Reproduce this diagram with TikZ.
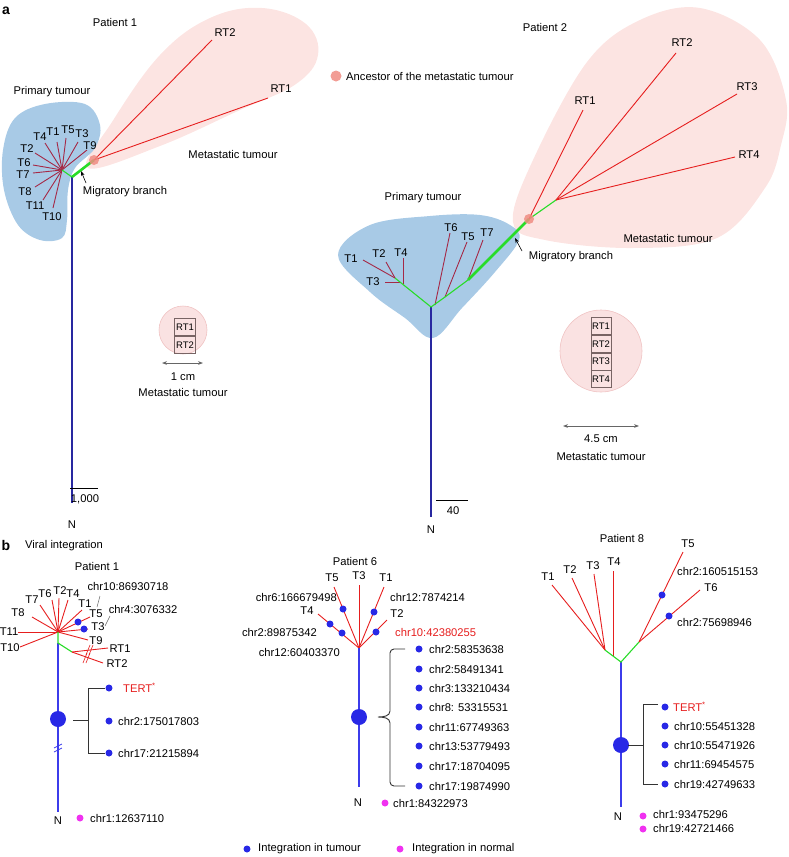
\documentclass[tikz,border=0pt]{standalone}
\usepackage{fontspec}
\setmainfont{Liberation Sans}
\usetikzlibrary{arrows.meta,calc}
\definecolor{blueblob}{RGB}{168,202,230}
\definecolor{pinkblob}{RGB}{252,228,226}
\definecolor{maroon}{RGB}{165,40,70}
\definecolor{redl}{RGB}{230,30,30}
\definecolor{greenl}{RGB}{40,220,40}
\definecolor{darkbl}{RGB}{40,40,160}
\definecolor{bluel}{RGB}{60,60,235}
\definecolor{dotblue}{RGB}{40,40,230}
\definecolor{magen}{RGB}{240,50,240}
\definecolor{ancpink}{RGB}{240,140,130}
\definecolor{circpink}{RGB}{250,226,226}
\definecolor{circedge}{RGB}{240,195,195}
\definecolor{boxedge}{RGB}{120,100,100}
\tikzset{
  lbl/.style={inner sep=0pt},
  redtxt/.style={inner sep=0pt,text=redl},
  bdot/.style={circle,fill=dotblue,inner sep=0pt,minimum size=7pt},
  mdot/.style={circle,fill=magen,inner sep=0pt,minimum size=7pt},
  bignode/.style={circle,fill=dotblue,inner sep=0pt,minimum size=16pt},
  anc/.style={circle,fill=ancpink,fill opacity=0.85,inner sep=0pt,minimum size=10pt},
  mbr/.style={maroon,line width=0.9pt},
  rbr/.style={redl,line width=0.9pt},
  gbr/.style={greenl,line width=1.1pt},
  gthick/.style={greenl,line width=2.6pt},
  trunka/.style={darkbl,line width=1.2pt},
  trunkb/.style={bluel,line width=1.1pt},
  brk/.style={black!80,line width=0.9pt},
  rtbox/.style={draw=boxedge,line width=0.7pt,inner sep=0pt,minimum width=21pt,minimum height=17pt,font=\fontsize{9.5}{10}\selectfont},
  dimarrow/.style={{Stealth[length=5pt]}-{Stealth[length=5pt]},black!60,line width=0.8pt},
  ptr/.style={-{Stealth[length=5pt,width=3.5pt]},black,line width=0.6pt}
}
\begin{document}
\begin{tikzpicture}[x=1pt,y=-1pt,font=\fontsize{11.2}{13}\selectfont]
\useasboundingbox (0,0) rectangle (788,857);

% ================= Panel a =================
\node[lbl,font=\fontsize{14}{16}\selectfont\bfseries] (la) at (6,11) {a};

% ---- Patient 1 ----
\node[lbl] (pa1) at (115,22) {Patient 1};
\fill[pinkblob] plot[smooth cycle,tension=0.65] coordinates {(88,168) (112,122) (160,55) (210,18) (262,8) (306,24) (318,55) (296,84) (240,110) (160,146)};
\fill[blueblob] plot[smooth cycle,tension=0.6] coordinates {(45,104) (85,104) (100,125) (95,148) (75,168) (68,190) (67,220) (62,238) (40,240) (18,225) (4,190) (3,150) (15,118)};
\node[lbl] (prim1) at (52,92) {Primary tumour};
\node[lbl] (met1) at (233,154) {Metastatic tumour};
\node[lbl] (mig1) at (125,192) {Migratory branch};

\coordinate (p1c) at (62,170);
\coordinate (p1j) at (72,177);
\coordinate (p1a) at (94,160);
\coordinate (p1bot) at (72,503);
\foreach \ex/\ey/\t/\lx/\ly in {45/143/T4/40/137, 57/142/T1/53/132, 66/138/T5/68/130, 78/142/T3/82/134, 87/150/T9/90/146, 35/153/T2/27/149, 33/165/T6/24/163, 33/173/T7/23/175, 35/187/T8/25/192, 43/200/T11/35/206, 53/208/T10/52/217}{
  \coordinate (e1\t) at (\ex,\ey);
  \draw[mbr] (p1c) -- (e1\t);
  \node[lbl] (l1\t) at (\lx,\ly) {\t};
}
\draw[trunka] (p1j) -- (p1bot);
\draw[gbr] (p1c) -- (p1j);
\draw[gthick] (p1j) -- (p1a);
\coordinate (e1RT2) at (212,40);
\coordinate (e1RT1) at (268,98);
\draw[rbr] (p1a) -- (e1RT2);
\draw[rbr] (p1a) -- (e1RT1);
\node[anc] (anc1) at (p1a) {};
\node[lbl] (l1RT2) at (225,33) {RT2};
\node[lbl] (l1RT1) at (281,89) {RT1};
\coordinate (mig1s) at (86,183);
\coordinate (mig1t) at (81,171);
\draw[ptr] (mig1s) -- (mig1t);
% scale bar
\coordinate (sb1a) at (70,488);
\coordinate (sb1b) at (98,488);
\draw[black,line width=0.8pt] (sb1a) -- (sb1b);
\node[lbl] (sb1l) at (85,499) {1,000};
\node[lbl] (n1) at (72,525) {N};

% legend ancestor
\node[anc,minimum size=11pt] (ancleg) at (336,76) {};
\node[lbl,anchor=west] (ancleglbl) at (346,76) {Ancestor of the metastatic tumour};

% size circle patient 1
\fill[circpink,draw=circedge,line width=0.6pt] (183,330) circle (24);
\node[rtbox] (c1r1) at (185,327) {RT1};
\node[rtbox,anchor=north] (c1r2) at (c1r1.south) {RT2};
\coordinate (d1a) at (162,363);
\coordinate (d1b) at (203,363);
\draw[dimarrow] (d1a) -- (d1b);
\node[lbl] (cm1) at (183,377) {1 cm};
\node[lbl] (mt1) at (183,392) {Metastatic tumour};

% ---- Patient 2 ----
\node[lbl] (pa2) at (545,27) {Patient 2};
\fill[pinkblob] plot[smooth cycle,tension=0.6] coordinates {(513,222) (533,160) (587,62) (640,20) (700,8) (760,40) (786,100) (781,145) (765,188) (717,238) (633,248) (545,240)};
\fill[blueblob] plot[smooth cycle,tension=0.6] coordinates {(338,255) (370,225) (430,216) (480,215) (510,225) (519,240) (495,272) (462,308) (433,338) (405,318) (370,292)};
\node[lbl] (prim2) at (423,198) {Primary tumour};
\node[lbl] (met2) at (668,238) {Metastatic tumour};
\node[lbl] (mig2) at (571,257) {Migratory branch};

\coordinate (p2r) at (431,307);
\coordinate (p2l) at (395,278);
\coordinate (p2m) at (445,297);
\coordinate (p2n) at (468,280);
\coordinate (p2a) at (529,219);
\coordinate (p2b) at (556,200);
\coordinate (p2bot) at (431,517);
\draw[trunka] (p2r) -- (p2bot);
\draw[mbr] (p2l) -- (363,260);
\draw[mbr] (p2l) -- (386,262);
\draw[mbr] (400,282) -- (385,282);
\draw[mbr] (403,284) -- (403,258);
\draw[mbr] (435,305) -- (450,233);
\draw[mbr] (p2m) -- (467,242);
\draw[mbr] (p2n) -- (483,240);
\draw[gbr] (p2r) -- (p2l);
\draw[gbr] (p2r) -- (p2m) -- (p2n);
\draw[gthick] (p2n) -- (p2a);
\draw[gbr] (p2a) -- (p2b);
\draw[rbr] (p2a) -- (583,110);
\draw[rbr] (p2b) -- (676,53);
\draw[rbr] (p2b) -- (737,94);
\draw[rbr] (p2b) -- (735,157);
\node[anc] (anc2) at (p2a) {};
\node[lbl] (l2T1) at (351,259) {T1};
\node[lbl] (l2T2) at (379,254) {T2};
\node[lbl] (l2T4) at (401,253) {T4};
\node[lbl] (l2T3) at (373,282) {T3};
\node[lbl] (l2T6) at (451,228) {T6};
\node[lbl] (l2T5) at (468,237) {T5};
\node[lbl] (l2T7) at (487,233) {T7};
\node[lbl] (l2RT1) at (585,101) {RT1};
\node[lbl] (l2RT2) at (682,43) {RT2};
\node[lbl] (l2RT3) at (747,87) {RT3};
\node[lbl] (l2RT4) at (749,155) {RT4};
\coordinate (mig2s) at (522,251);
\coordinate (mig2t) at (515,238);
\draw[ptr] (mig2s) -- (mig2t);
\coordinate (sb2a) at (436,500);
\coordinate (sb2b) at (468,500);
\draw[black,line width=0.8pt] (sb2a) -- (sb2b);
\node[lbl] (sb2l) at (453,511) {40};
\node[lbl] (n2) at (431,530) {N};

% size circle patient 2
\fill[circpink,draw=circedge,line width=0.6pt] (601,351) circle (41);
\node[rtbox,minimum width=20pt] (c2r1) at (601,326) {RT1};
\node[rtbox,minimum width=20pt,anchor=north] (c2r2) at (c2r1.south) {RT2};
\node[rtbox,minimum width=20pt,anchor=north] (c2r3) at (c2r2.south) {RT3};
\node[rtbox,minimum width=20pt,anchor=north] (c2r4) at (c2r3.south) {RT4};
\coordinate (d2a) at (563,426);
\coordinate (d2b) at (639,426);
\draw[dimarrow] (d2a) -- (d2b);
\node[lbl] (cm2) at (601,439) {4.5 cm};
\node[lbl] (mt2) at (601,456) {Metastatic tumour};

% ================= Panel b =================
\node[lbl,font=\fontsize{14}{16}\selectfont\bfseries] (lb) at (6,545) {b};
\node[lbl,anchor=west] (vi) at (25,546) {Viral integration};

% ---- Patient 1 ----
\node[lbl] (pb1) at (97,566) {Patient 1};
\coordinate (b1c) at (58,632);
\coordinate (b1g) at (58,643);
\coordinate (b1r) at (72,652);
\coordinate (b1bot) at (58,812);
\foreach \ex/\ey/\t/\lx/\ly in {32/617/T8/18/613, 40/605/T7/32/600, 52/600/T6/45/594, 59/598/T2/60/591, 68/600/T4/73/594, 82/610/T1/85/604, 90/617/T5/96/614, 88/629/T3/98/627, 88/640/T9/96/641, 18/632/T11/9/632, 20/647/T10/10/648}{
  \coordinate (f1\t) at (\ex,\ey);
  \draw[rbr] (b1c) -- (f1\t);
  \node[lbl] (k1\t) at (\lx,\ly) {\t};
}
\draw[trunkb] (b1g) -- (b1bot);
\draw[gbr] (b1c) -- (b1g) -- (b1r);
\coordinate (f1RT1) at (108,648);
\coordinate (f1RT2) at (103,663);
\draw[rbr] (b1r) -- (f1RT1);
\draw[rbr] (b1r) -- (f1RT2);
\node[lbl] (k1RT1) at (120,649) {RT1};
\node[lbl] (k1RT2) at (117,664) {RT2};
\foreach \bx/\by in {88/650, 91/650, 85/658, 88/658}{\draw[redl,line width=0.6pt] (\bx-2,\by+5) -- (\bx+2,\by-5);}
\foreach \by in {746,750}{\draw[bluel,line width=0.7pt] (54,\by+2) -- (62,\by-2);}
\node[bdot] (b1d1) at (78,622) {};
\node[bdot] (b1d2) at (84,629) {};
\node[lbl] (chr10a) at (128,586) {chr10:86930718};
\node[lbl] (chr4a) at (143,609) {chr4:3076332};
\coordinate (ld1a) at (100,596);
\coordinate (ld1b) at (97,607);
\coordinate (ld2a) at (110,616);
\coordinate (ld2b) at (105,626);
\draw[black!60,line width=0.5pt] (ld1a) -- (ld1b);
\draw[black!60,line width=0.5pt] (ld2a) -- (ld2b);
\node[bignode] (b1big) at (58,719) {};
\coordinate (br1m) at (73,720);
\draw[brk] (105,688) -- (88,688) -- (88,753) -- (105,753);
\draw[brk] (br1m) -- (88,720);
\node[bdot] (b1e1) at (109,688) {};
\node[bdot] (b1e2) at (109,721) {};
\node[bdot] (b1e3) at (109,753) {};
\node[redtxt,anchor=west] (tert1) at (123,688) {TERT\textsuperscript{*}};
\node[lbl,anchor=west] (b1t2) at (118,721) {chr2:175017803};
\node[lbl,anchor=west] (b1t3) at (118,753) {chr17:21215894};
\node[lbl] (bn1) at (58,821) {N};
\node[mdot] (b1m) at (80,818) {};
\node[lbl,anchor=west] (b1mt) at (90,818) {chr1:12637110};

% ---- Patient 6 ----
\node[lbl] (pb6) at (355,561) {Patient 6};
\coordinate (b6c) at (359,648);
\coordinate (b6bot) at (359,787);
\foreach \ex/\ey/\t/\lx/\ly in {334/587/T5/332/578, 359/585/T3/359/576, 384/587/T1/386/578, 318/614/T4/307/611, 387/620/T2/397/614}{
  \coordinate (f6\t) at (\ex,\ey);
  \draw[rbr] (b6c) -- (f6\t);
  \node[lbl] (k6\t) at (\lx,\ly) {\t};
}
\draw[trunkb] (b6c) -- (b6bot);
\node[bdot] (b6d1) at (343,609) {};
\node[bdot] (b6d2) at (374,612) {};
\node[bdot] (b6d3) at (330,624) {};
\node[bdot] (b6d4) at (342,633) {};
\node[bdot] (b6d5) at (376,632) {};
\node[lbl,anchor=east] (b6l1) at (337,597) {chr6:166679498};
\node[lbl,anchor=west] (b6l2) at (390,597) {chr12:7874214};
\node[lbl,anchor=east] (b6l3) at (317,632) {chr2:89875342};
\node[redtxt,anchor=west] (b6l4) at (395,632) {chr10:42380255};
\node[lbl,anchor=east] (b6l5) at (340,652) {chr12:60403370};
\node[bignode] (b6big) at (359,717) {};
\draw[brk] (405,649) -- (394,649) to[out=180,in=90] (390,653) -- (390,711) to[out=-90,in=0] (378,717) to[out=0,in=90] (390,723) -- (390,782) to[out=-90,in=180] (394,786) -- (405,786);
\foreach \y/\t in {649/chr2:58353638, 669/chr2:58491341, 688/chr3:133210434, 707/chr8: 53315531, 727/chr11:67749363, 746/chr13:53779493, 766/chr17:18704095, 786/chr17:19874990}{
  \node[bdot] at (419,\y) {};
  \node[lbl,anchor=west] at (429,\y) {\t};
}
\node[lbl] (bn6) at (358,803) {N};
\node[mdot] (b6m) at (385,803) {};
\node[lbl,anchor=west] (b6mt) at (393,803) {chr1:84322973};

% ---- Patient 8 ----
\node[lbl] (pb8) at (622,538) {Patient 8};
\coordinate (b8j) at (621,662);
\coordinate (b8l) at (605,650);
\coordinate (b8r) at (639,642);
\coordinate (b8bot) at (621,807);
\foreach \ex/\ey/\t/\lx/\ly in {552/585/T1/548/577, 572/578/T2/570/570, 594/574/T3/593/566, 613/571/T4/614/562}{
  \coordinate (f8\t) at (\ex,\ey);
  \node[lbl] (k8\t) at (\lx,\ly) {\t};
}
\draw[rbr] (b8l) -- (f8T1);
\draw[rbr] (b8l) -- (f8T2);
\draw[rbr] (b8l) -- (f8T3);
\coordinate (b8l4) at (613,656);
\draw[rbr] (b8l4) -- (f8T4);
\coordinate (f8T5) at (683,552);
\coordinate (f8T6) at (700,590);
\draw[rbr] (b8r) -- (f8T5);
\draw[rbr] (b8r) -- (f8T6);
\node[lbl] (k8T5) at (688,544) {T5};
\node[lbl] (k8T6) at (711,588) {T6};
\draw[trunkb] (b8j) -- (b8bot);
\draw[gbr] (b8l) -- (b8j) -- (b8r);
\node[bdot] (b8d1) at (662,595) {};
\node[bdot] (b8d2) at (669,616) {};
\node[lbl,anchor=west] (b8l1) at (677,571) {chr2:160515153};
\node[lbl,anchor=west] (b8l2) at (677,622) {chr2:75698946};
\node[bignode] (b8big) at (621,745) {};
\coordinate (br8m) at (628,745);
\draw[brk] (658,704) -- (643,704) -- (643,784) -- (658,784);
\draw[brk] (br8m) -- (643,745);
\node[bdot] at (665,707) {};
\node[redtxt,anchor=west] at (673,707) {TERT\textsuperscript{*}};
\foreach \y/\t in {726/chr10:55451328, 745/chr10:55471926, 764/chr11:69454575, 784/chr19:42749633}{
  \node[bdot] at (665,\y) {};
  \node[lbl,anchor=west] at (674,\y) {\t};
}
\node[lbl] (bn8) at (618,817) {N};
\node[mdot] (b8m1) at (643,816) {};
\node[mdot] (b8m2) at (643,829) {};
\node[lbl,anchor=west] (b8mt1) at (653,814) {chr1:93475296};
\node[lbl,anchor=west] (b8mt2) at (653,828) {chr19:42721466};

% ---- Legend ----
\node[bdot] (legb) at (247,849) {};
\node[lbl,anchor=west] (legbt) at (258,849) {Integration in tumour};
\node[mdot] (legm) at (400,849) {};
\node[lbl,anchor=west] (legmt) at (412,849) {Integration in normal};
\end{tikzpicture}
\end{document}
